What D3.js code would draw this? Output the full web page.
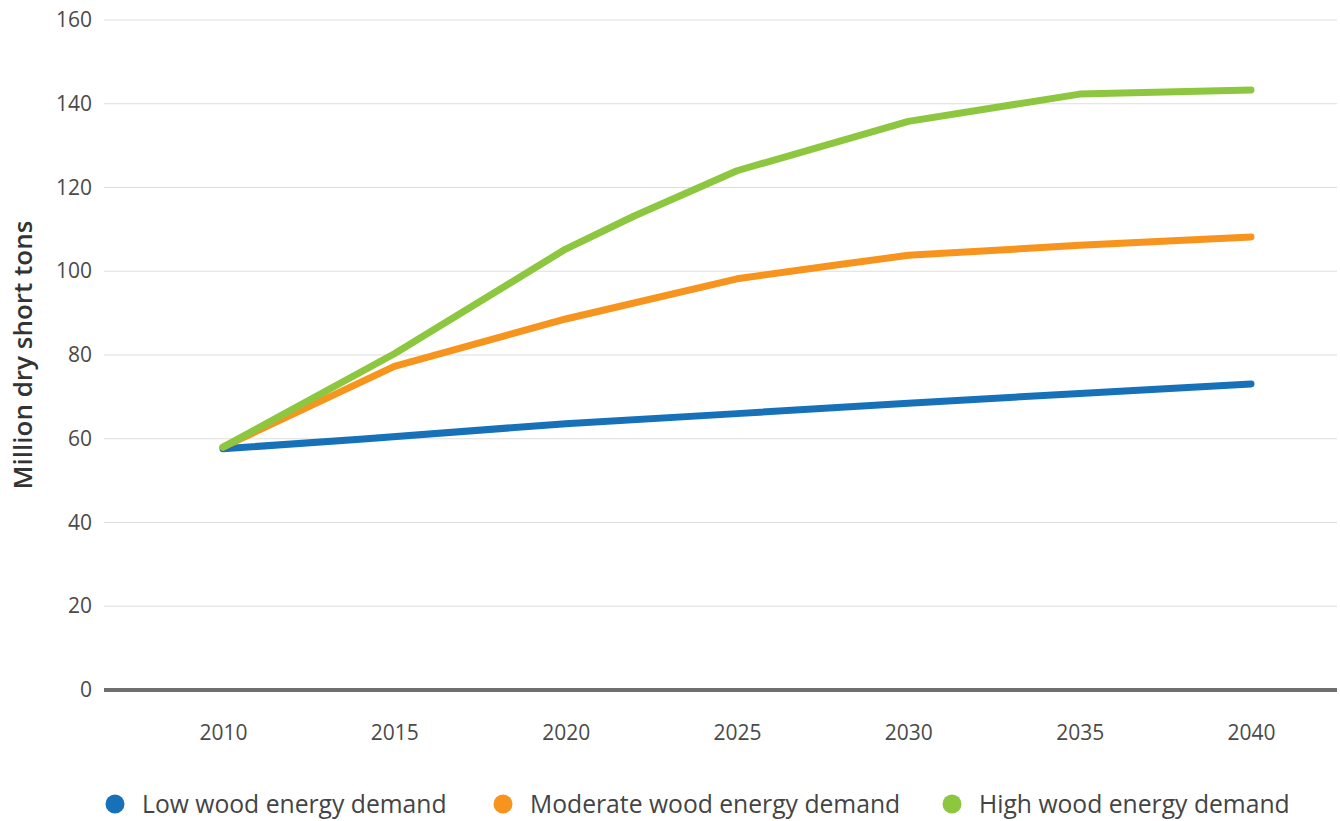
<!DOCTYPE html>
<html>
<head>
<meta charset="utf-8">
<script src="https://cdn.jsdelivr.net/npm/d3@7"></script>
<style>
  body { margin: 0; background: #fff; }
  text { font-family: "Open Sans", sans-serif; }
</style>
</head>
<body>
<div id="chart"></div>
<script>
// data
var lowYears = [2010, 2014, 2020, 2025, 2030, 2035, 2040];
var lowValues = [57.6, 59.9, 63.6, 66.0, 68.5, 70.8, 73.1];

var moderateYears = [2010, 2015, 2020, 2025, 2028, 2030, 2035, 2040];
var moderateValues = [58.0, 77.3, 88.6, 98.2, 101.6, 103.8, 106.2, 108.2];

var highYears = [2010, 2015, 2020, 2022, 2025, 2030, 2035, 2040];
var highValues = [58.0, 80.3, 105.3, 113.2, 124.0, 135.8, 142.3, 143.3];

var xTicks = [2010, 2015, 2020, 2025, 2030, 2035, 2040];
var yTicks = [0, 20, 40, 60, 80, 100, 120, 140, 160];

var seriesNames = ["Low wood energy demand", "Moderate wood energy demand", "High wood energy demand"];
var seriesColors = ["#1771b8", "#f7941d", "#8dc63f"];

var W = 1340, H = 821;

var svg = d3.select("#chart")
  .append("svg")
    .attr("width", W)
    .attr("height", H);

// scales
var x = d3.scaleLinear().domain([2010, 2040]).range([223, 1251]);
var y = d3.scaleLinear().domain([0, 160]).range([690, 20]);

// gridlines
svg.append("g")
  .selectAll("line")
  .data(yTicks.filter(function(d) { return d > 0; }))
  .enter().append("line")
    .attr("x1", 104)
    .attr("x2", 1337)
    .attr("y1", function(d) { return y(d); })
    .attr("y2", function(d) { return y(d); })
    .attr("stroke", "#dedede")
    .attr("stroke-width", 1.2);

// Y axis labels
var yAxis = svg.append("g")
  .attr("transform", "translate(92,0)")
  .call(d3.axisLeft(y).tickValues(yTicks).tickSize(0).tickPadding(0));
yAxis.select(".domain").remove();
yAxis.selectAll("text")
  .style("font-family", "'Open Sans', sans-serif")
  .style("font-size", "21px")
  .attr("fill", "#4a4a4a");

// X axis labels
var xAxis = svg.append("g")
  .attr("transform", "translate(0,725)")
  .call(d3.axisBottom(x).tickValues(xTicks).tickFormat(d3.format("d")).tickSize(0).tickPadding(0));
xAxis.select(".domain").remove();
xAxis.selectAll("text")
  .style("font-family", "'Open Sans', sans-serif")
  .style("font-size", "21px")
  .attr("fill", "#4a4a4a");

// baseline
svg.append("line")
  .attr("x1", 104)
  .attr("x2", 1337)
  .attr("y1", y(0))
  .attr("y2", y(0))
  .attr("stroke", "#6f6f6f")
  .attr("stroke-width", 4);

// y title
svg.append("text")
  .attr("transform", "translate(32,355) rotate(-90)")
  .attr("text-anchor", "middle")
  .style("font-size", "26px")
  .style("font-weight", 600)
  .attr("fill", "#333")
  .text("Million dry short tons");

// lines
var line = d3.line()
  .x(function(d) { return x(d[0]); })
  .y(function(d) { return y(d[1]); });

var allSeries = [
  d3.zip(lowYears, lowValues),
  d3.zip(moderateYears, moderateValues),
  d3.zip(highYears, highValues)
];

svg.append("g")
  .selectAll("path")
  .data(allSeries)
  .enter().append("path")
    .attr("d", line)
    .attr("fill", "none")
    .attr("stroke", function(d, i) { return seriesColors[i]; })
    .attr("stroke-width", 7)
    .attr("stroke-linecap", "round")
    .attr("stroke-linejoin", "round");

// legend
var legendX = [115, 503, 952];
var legend = svg.append("g")
  .selectAll("g")
  .data(seriesNames)
  .enter().append("g")
    .attr("transform", function(d, i) { return "translate(" + legendX[i] + ",804)"; });

legend.append("circle")
  .attr("r", 9.5)
  .attr("fill", function(d, i) { return seriesColors[i]; });

legend.append("text")
  .attr("x", 27)
  .attr("dy", "0.35em")
  .style("font-size", "24.7px")
  .attr("fill", "#444")
  .text(function(d) { return d; });
</script>
</body>
</html>
